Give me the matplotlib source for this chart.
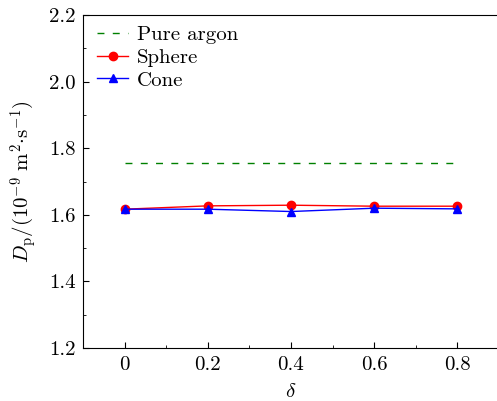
import matplotlib
matplotlib.use('Agg')
import matplotlib.pyplot as plt
from matplotlib.ticker import MultipleLocator

# data
delta = [0, 0.2, 0.4, 0.6, 0.8]
argon = [1.756, 1.756, 1.756, 1.756, 1.756]
sphere = [1.617, 1.627, 1.629, 1.626, 1.626]
cone = [1.617, 1.617, 1.610, 1.620, 1.618]

plt.rcParams['font.family'] = 'serif'
plt.rcParams['font.serif'] = ['cmr10', 'DejaVu Serif']
plt.rcParams['mathtext.fontset'] = 'cm'
plt.rcParams['axes.formatter.use_mathtext'] = True
plt.rcParams['font.size'] = 15

fig = plt.figure(figsize=(4.97, 4.01), dpi=100)
ax = fig.add_axes([0.167, 0.132, 0.837, 0.8305])

ax.plot(delta, argon, '--', color='green', lw=1, dashes=(5, 6), label='Pure argon')
ax.plot(delta, sphere, '-o', color='red', lw=1, ms=6, label='Sphere')
ax.plot(delta, cone, '-^', color='blue', lw=1, ms=6, label='Cone')

ax.set_xlim(-0.1, 0.9)
ax.set_ylim(1.2, 2.2)
ax.xaxis.set_minor_locator(MultipleLocator(0.1))
ax.yaxis.set_minor_locator(MultipleLocator(0.1))
ax.set_xticks([0, 0.2, 0.4, 0.6, 0.8])
ax.set_xticklabels(['0', '0.2', '0.4', '0.6', '0.8'])
ax.set_yticks([1.2, 1.4, 1.6, 1.8, 2.0, 2.2])
ax.set_yticklabels(['1.2', '1.4', '1.6', '1.8', '2.0', '2.2'])
ax.tick_params(which='both', direction='in', top=False, right=False, pad=5.5)
ax.tick_params(which='major', length=4)
ax.tick_params(which='minor', length=2.5)
ax.spines['right'].set_visible(False)

ax.set_xlabel(r'$\delta$', labelpad=7)
ax.set_ylabel(r'$D_{\rm p}/(10^{-9}\ {\rm m}^2{\cdot}{\rm s}^{-1})$', labelpad=7)

ax.legend(loc='upper left', bbox_to_anchor=(0.014, 0.993), frameon=False,
          handlelength=1.5, borderaxespad=0, labelspacing=0.2, handletextpad=0.4)

fig.savefig('out.png', dpi=100)
